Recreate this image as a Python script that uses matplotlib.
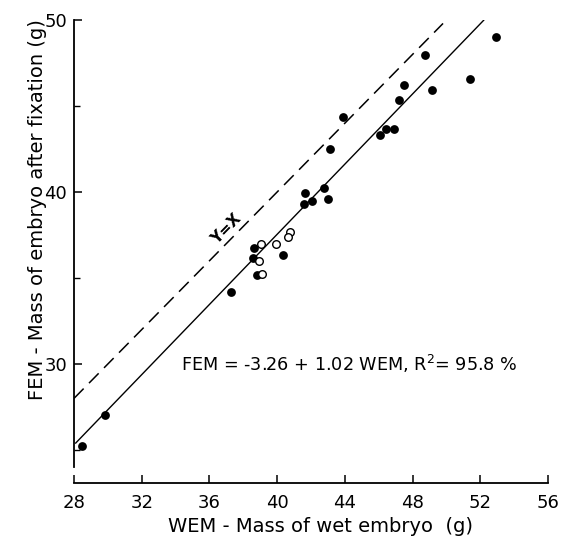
import matplotlib
matplotlib.use("Agg")
import matplotlib.pyplot as plt
import numpy as np

# ---- data ----
filled_x = [28.47, 29.83, 37.27, 38.63, 38.55, 38.79, 40.33, 41.64, 41.57, 42.08,
            42.77, 43.00, 43.12, 43.87, 46.09, 46.41, 46.92, 47.21, 47.47, 49.16,
            48.75, 51.39, 52.93]
filled_y = [25.23, 27.03, 34.19, 36.74, 36.18, 35.19, 36.36, 39.96, 39.30, 39.49,
            40.23, 39.61, 42.50, 44.36, 43.31, 43.66, 43.66, 45.33, 46.22, 45.95,
            47.98, 46.59, 49.03]
open_x = [39.05, 38.93, 39.10, 39.93, 40.76, 40.66]
open_y = [36.96, 35.99, 35.21, 36.96, 37.67, 37.37]

intercept = -3.26
slope = 1.02
fit_range = [28.1, 52.2]
identity_range = [28.0, 49.8]

x_ticks = [28, 32, 36, 40, 44, 48, 52, 56]
y_ticks = [30, 40, 50]
y_minor = [25, 35, 45]

plt.rcParams['font.family'] = ['DejaVu Sans']

fig = plt.figure(figsize=(5.63, 5.39), dpi=100)
ax = fig.add_axes([74/563, 1 - 483/539, 474/563, 463/539])

ax.set_xlim(28, 56)
ax.set_ylim(23.08, 50)

# lines
fx = np.array(fit_range)
ax.plot(fx, intercept + slope * fx, color='black', lw=1.0, zorder=2)
ix = np.array(identity_range)
ax.plot(ix, ix, color='black', lw=1.1, dashes=(9, 5), zorder=2)

# points
ax.scatter(filled_x, filled_y, s=40, color='black', zorder=3, linewidths=0)
ax.scatter(open_x, open_y, s=30, facecolor='white', edgecolor='black',
           linewidths=1.0, zorder=4)

# annotations
ax.text(37.0, 37.85, 'Y=X', rotation=45.5, ha='center', va='center',
        fontsize=11, fontweight='bold')
ax.text(34.3, 30.0, 'FEM = -3.26 + 1.02 WEM, R$^2$= 95.8 %', ha='left',
        va='center', fontsize=12.7)

# spines
for s in ['top', 'right']:
    ax.spines[s].set_visible(False)
ax.spines['left'].set_bounds(24, 50)
ax.spines['bottom'].set_bounds(28, 56)
ax.spines['left'].set_linewidth(1.3)
ax.spines['bottom'].set_linewidth(1.3)

ax.set_xticks(x_ticks)
ax.set_yticks(y_ticks)
ax.set_yticks(y_minor, minor=True)
ax.tick_params(axis='both', which='major', direction='in', length=6, width=1.1,
               labelsize=13)
ax.tick_params(axis='y', which='minor', direction='in', length=4, width=1.0)
ax.tick_params(axis='x', which='major', pad=8)
ax.tick_params(axis='y', which='major', pad=5)

ax.set_xlabel('WEM - Mass of wet embryo  (g)', fontsize=14)
ax.xaxis.set_label_coords(0.521, -0.074)
ax.set_ylabel('FEM - Mass of embryo after fixation (g)', fontsize=14)
ax.yaxis.set_label_coords(-0.058, 0.59)

fig.savefig('out.png', dpi=100)
